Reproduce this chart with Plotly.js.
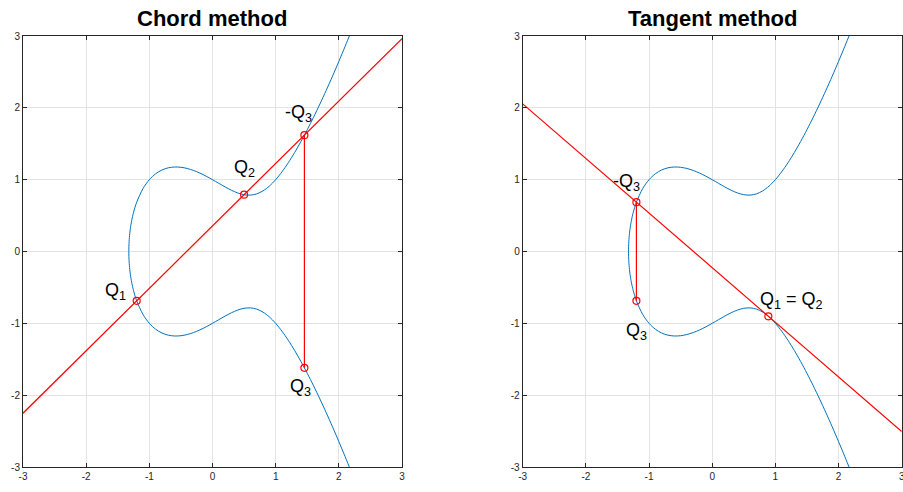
<!DOCTYPE html>
<html>
<head>
<meta charset="utf-8">
<script src="https://cdn.plot.ly/plotly-3.0.1.min.js"></script>
<style>html,body{margin:0;padding:0;background:#fff;}#chart{width:903px;height:492px;}</style>
</head>
<body>
<div id="chart"></div>
<script>
// Curve y^2 = x^3 - x + 1 (sampled points, upper branch from right to left, then lower branch)
const curveX = [2.2, 2.1, 2.0, 1.9, 1.8, 1.7, 1.6, 1.5, 1.4, 1.3, 1.2, 1.1, 1.0, 0.9, 0.8, 0.7, 0.6, 0.5, 0.4, 0.3, 0.2, 0.1, 0.0, -0.1, -0.2, -0.3, -0.4, -0.5, -0.6, -0.7, -0.8, -0.9, -1.0, -1.1, -1.2, -1.25, -1.28, -1.3, -1.31, -1.32, -1.3247,
  -1.32, -1.31, -1.3, -1.28, -1.25, -1.2, -1.1, -1.0, -0.9, -0.8, -0.7, -0.6, -0.5, -0.4, -0.3, -0.2, -0.1, 0.0, 0.1, 0.2, 0.3, 0.4, 0.5, 0.6, 0.7, 0.8, 0.9, 1.0, 1.1, 1.2, 1.3, 1.4, 1.5, 1.6, 1.7, 1.8, 1.9, 2.0, 2.1, 2.2];
const curveY = [3.0738, 2.8568, 2.6458, 2.4411, 2.2432, 2.0526, 1.8698, 1.6956, 1.5310, 1.3773, 1.2361, 1.1095, 1.0, 0.9105, 0.8438, 0.8019, 0.7849, 0.7906, 0.8149, 0.8526, 0.8989, 0.9492, 1.0, 1.0483, 1.0918, 1.1283, 1.1559, 1.1726, 1.1764, 1.1649, 1.1349, 1.0821, 1.0, 0.8769, 0.6870, 0.5449, 0.4276, 0.3209, 0.2488, 0.1415, 0.0,
  -0.1415, -0.2488, -0.3209, -0.4276, -0.5449, -0.6870, -0.8769, -1.0, -1.0821, -1.1349, -1.1649, -1.1764, -1.1726, -1.1559, -1.1283, -1.0918, -1.0483, -1.0, -0.9492, -0.8989, -0.8526, -0.8149, -0.7906, -0.7849, -0.8019, -0.8438, -0.9105, -1.0, -1.1095, -1.2361, -1.3773, -1.5310, -1.6956, -1.8698, -2.0526, -2.2432, -2.4411, -2.6458, -2.8568, -3.0738];

// Chord method
const chordLineX = [-3, 3];
const chordLineY = [-2.251, 2.963];
const chordPtsX = [-1.2, 0.5, 1.455, 1.455];
const chordPtsY = [-0.687, 0.7906, 1.620, -1.620];
const chordVertX = [1.455, 1.455];
const chordVertY = [1.620, -1.620];
const chordLabels = ['Q<sub>1</sub>', 'Q<sub>2</sub>', '-Q<sub>3</sub>', 'Q<sub>3</sub>'];
const chordLabelX = [-1.54, 0.5, 1.36, 1.4];
const chordLabelY = [-0.55, 1.15, 1.92, -1.9];

// Tangent method
const tanLineX = [-3, 3];
const tanLineY = [2.055, -2.505];
const tanPtsX = [0.889, -1.2, -1.2];
const tanPtsY = [-0.902, 0.687, -0.687];
const tanVertX = [-1.2, -1.2];
const tanVertY = [0.687, -0.687];
const tanLabels = ['-Q<sub>3</sub>', 'Q<sub>3</sub>', 'Q<sub>1</sub> = Q<sub>2</sub>'];
const tanLabelX = [-1.36, -1.2, 1.25];
const tanLabelY = [0.96, -1.12, -0.68];

const titles = ['Chord method', 'Tangent method'];
const tickVals = [-3, -2, -1, 0, 1, 2, 3];

const blue = '#0072BD', red = '#FF0000';
const FONT = 'Liberation Sans, Arial, sans-serif';

function curveTrace(xa, ya) {
  return {type: 'scatter', x: curveX, y: curveY, xaxis: xa, yaxis: ya, mode: 'lines',
    line: {color: blue, width: 1, shape: 'spline', smoothing: 0.8}, hoverinfo: 'skip'};
}
function lineTrace(x, y, xa, ya) {
  return {type: 'scatter', x: x, y: y, xaxis: xa, yaxis: ya, mode: 'lines', line: {color: red, width: 1.2}, hoverinfo: 'skip'};
}
function ptsTraces(x, y, xa, ya) {
  return x.map((xv, i) => ({type: 'scatter', x: [xv], y: [y[i]], xaxis: xa, yaxis: ya, mode: 'markers',
    marker: {symbol: 'circle-open', size: 7, color: red, line: {width: 1.2, color: red}}, hoverinfo: 'skip'}));
}

const data = [
  curveTrace('x', 'y'), lineTrace(chordLineX, chordLineY, 'x', 'y'), lineTrace(chordVertX, chordVertY, 'x', 'y'),
  ...ptsTraces(chordPtsX, chordPtsY, 'x', 'y'),
  curveTrace('x2', 'y2'), lineTrace(tanLineX, tanLineY, 'x2', 'y2'), lineTrace(tanVertX, tanVertY, 'x2', 'y2'),
  ...ptsTraces(tanPtsX, tanPtsY, 'x2', 'y2')
];

function axis(dom, anchor) {
  return {domain: dom, anchor: anchor, range: [-3, 3], tickvals: tickVals, ticktext: tickVals.map(String),
    showline: true, mirror: 'ticks', linecolor: '#262626', linewidth: 1, ticks: 'inside', ticklen: 4, tickcolor: '#262626',
    showgrid: true, gridcolor: '#e3e3e3', gridwidth: 1, zeroline: false, ticklabeloverflow: 'allow',
    tickfont: {family: FONT, size: 10, color: '#262626'}};
}

const annotations = [];
const xd1 = [23/903, 402/903], xd2 = [522.7/903, 901.7/903];
const yd = [1 - 467/492, 1 - 36/492];
[xd1, xd2].forEach((d, i) => {
  annotations.push({xref: 'paper', yref: 'paper', x: (d[0] + d[1]) / 2, y: 1 - 18/492, xanchor: 'center', yanchor: 'middle',
    text: '<b>' + titles[i] + '</b>', showarrow: false, font: {family: FONT, size: 22, color: '#000'}});
});
chordLabels.forEach((t, i) => annotations.push({xref: 'x', yref: 'y', x: chordLabelX[i], y: chordLabelY[i], text: t, showarrow: false,
  font: {family: FONT, size: 18, color: '#000'}}));
tanLabels.forEach((t, i) => annotations.push({xref: 'x2', yref: 'y2', x: tanLabelX[i], y: tanLabelY[i], text: t, showarrow: false,
  font: {family: FONT, size: 18, color: '#000'}}));

const layout = {
  width: 903, height: 492, margin: {l: 0, r: 0, t: 0, b: 0}, showlegend: false,
  paper_bgcolor: '#fff', plot_bgcolor: '#fff',
  xaxis: axis(xd1, 'y'), yaxis: axis(yd, 'x'),
  xaxis2: axis(xd2, 'y2'), yaxis2: axis(yd, 'x2'),
  annotations: annotations
};

Plotly.newPlot('chart', data, layout, {staticPlot: true, displayModeBar: false});
</script>
</body>
</html>
